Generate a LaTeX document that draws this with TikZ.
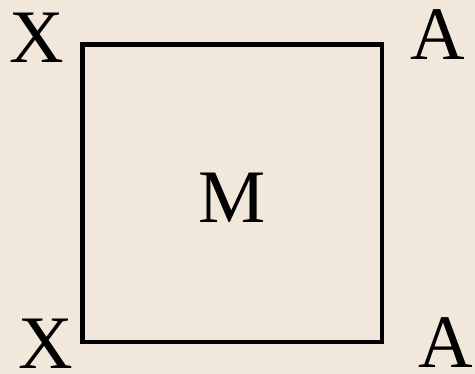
\documentclass[tikz,border=0pt]{standalone}
\usepackage{fontspec}
\setmainfont{Liberation Serif}
\usepackage{tikz}
\usetikzlibrary{positioning}
\definecolor{paper}{RGB}{242,231,219}
\tikzset{
  corner/.style={inner sep=0pt, font=\fontsize{43}{43}\selectfont},
  plate/.style={draw=black, line width=2.6pt, inner sep=0pt, minimum width=5.99cm, minimum height=5.95cm, font=\fontsize{43}{43}\selectfont}
}
\begin{document}
\begin{tikzpicture}
% background, 475x374 px at 0.02cm per px
\fill[paper] (0,0) rectangle (9.5,7.48);
\useasboundingbox (0,0) rectangle (9.5,7.48);
% square with the M in the middle
\node[plate] (M) at (4.645,3.615) {};
\node[corner] (m) at (4.64,3.52) {M};
% corner letters
\node[corner] (xtop) at (0.74,6.72) {X};
\node[corner] (atop) at (8.76,6.78) {A};
\node[corner] (xbot) at (0.92,0.60) {X};
\node[corner] (abot) at (8.92,0.63) {A};
\end{tikzpicture}
\end{document}
